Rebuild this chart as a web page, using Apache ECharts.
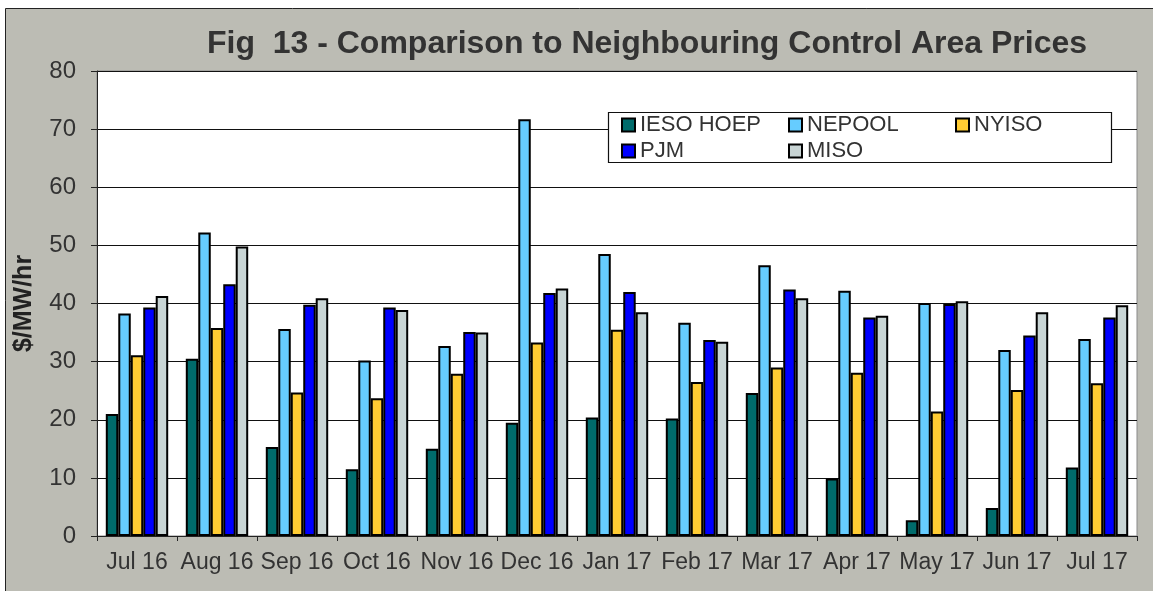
<!DOCTYPE html>
<html>
<head>
<meta charset="utf-8">
<script src="https://cdn.jsdelivr.net/npm/echarts@6/dist/echarts.min.js"></script>
<style>
  html, body { margin: 0; padding: 0; background: #fff; }
  #main { width: 1153px; height: 591px; }
</style>
</head>
<body>
<div id="main"></div>
<script>
// 数据
var months = ['Jul 16', 'Aug 16', 'Sep 16', 'Oct 16', 'Nov 16', 'Dec 16', 'Jan 17',
  'Feb 17', 'Mar 17', 'Apr 17', 'May 17', 'Jun 17', 'Jul 17'];
var iesoHoep = [21.0, 30.5, 15.3, 11.5, 15.0, 19.5, 20.4, 20.2, 24.6, 9.9, 2.7, 4.8, 11.8];
var nepool = [38.3, 52.2, 35.6, 30.2, 32.7, 71.7, 48.5, 36.7, 46.6, 42.2, 40.1, 32.0, 33.9];
var nyiso = [31.1, 35.8, 24.7, 23.7, 27.9, 33.3, 35.5, 26.5, 29.0, 28.1, 21.4, 25.1, 26.3];
var pjm = [39.3, 43.3, 39.8, 39.3, 35.1, 41.8, 42.0, 33.7, 42.4, 37.6, 39.9, 34.5, 37.6];
var miso = [41.3, 49.8, 40.9, 38.9, 35.0, 42.6, 38.5, 33.4, 40.9, 37.9, 40.4, 38.5, 39.7];
var yTicks = [0, 10, 20, 30, 40, 50, 60, 70, 80];

var seriesNames = ['IESO HOEP', 'NEPOOL', 'NYISO', 'PJM', 'MISO'];
var seriesData = [iesoHoep, nepool, nyiso, pjm, miso];
var colors = ['#006B6B', '#66CCFF', '#FFCC33', '#0000FF', '#C8D4D4'];

var font = '"Liberation Sans", Arial, sans-serif';
var chart = echarts.init(document.getElementById('main'));

// 图例位置（三列两行）
var legendPos = [[621, 114], [788, 114], [955, 114], [621, 140], [788, 140]];
var legends = seriesNames.map(function (name, i) {
  return {
    data: [name],
    left: legendPos[i][0],
    top: legendPos[i][1],
    z: 10,
    itemWidth: 13,
    itemHeight: 13,
    itemGap: 0,
    icon: 'rect',
    padding: 0,
    textStyle: { fontFamily: font, fontSize: 22, color: '#333' }
  };
});

var option = {
  animation: false,
  color: colors,
  textStyle: { fontFamily: font },
  title: {
    text: 'Fig  13 - Comparison to Neighbouring Control Area Prices',
    left: 642,
    textAlign: 'center',
    top: 23,
    textStyle: { fontFamily: font, fontSize: 32, fontWeight: 'bold', color: '#333' }
  },
  graphic: [
    {
      type: 'rect',
      z: -10,
      silent: true,
      shape: { x: 5.5, y: 8.5, width: 1160, height: 600 },
      style: { fill: '#BCBCB4', stroke: '#222', lineWidth: 1 }
    },
    {
      type: 'rect',
      z: 3,
      silent: true,
      shape: { x: 608.5, y: 112.5, width: 503, height: 50 },
      style: { fill: '#fff', stroke: '#111', lineWidth: 1.2 }
    }
  ],
  legend: legends,
  grid: {
    left: 97, right: 16, top: 71, bottom: 55,
    show: true,
    backgroundColor: '#fff',
    borderColor: '#8a8a8a',
    borderWidth: 1
  },
  xAxis: {
    type: 'category',
    data: months,
    axisLine: { lineStyle: { color: '#222', width: 1 } },
    axisTick: { show: true, length: 5, lineStyle: { color: '#222' } },
    axisLabel: { fontFamily: font, fontSize: 23, color: '#333', margin: 15, interval: 0 }
  },
  yAxis: {
    type: 'value',
    min: yTicks[0],
    max: yTicks[yTicks.length - 1],
    interval: 10,
    name: '$/MW/hr',
    nameLocation: 'middle',
    nameGap: 60,
    nameTextStyle: { fontFamily: font, fontSize: 25, fontWeight: 'bold', color: '#222' },
    axisLine: { show: true, lineStyle: { color: '#222', width: 1 } },
    axisTick: { show: true, length: 6, lineStyle: { color: '#222' } },
    axisLabel: { fontFamily: font, fontSize: 24, color: '#333', margin: 21 },
    splitLine: { lineStyle: { color: '#111', width: 1 } }
  },
  series: seriesNames.map(function (name, i) {
    return {
      name: name,
      type: 'bar',
      data: seriesData[i],
      barGap: '0%',
      barCategoryGap: '22%',
      itemStyle: { color: colors[i], borderColor: '#000', borderWidth: 2 }
    };
  })
};

chart.setOption(option);
</script>
</body>
</html>
